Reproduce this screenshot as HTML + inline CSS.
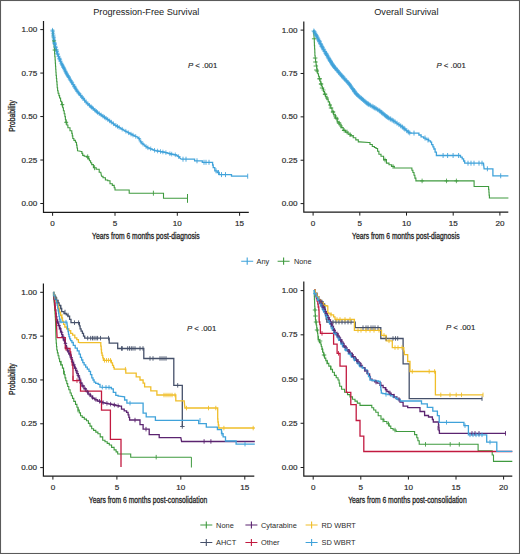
<!DOCTYPE html>
<html><head><meta charset="utf-8"><style>
html,body{margin:0;padding:0;background:#fff;}
body{width:520px;height:554px;overflow:hidden;}
svg{display:block;}
text{font-family:"Liberation Sans",sans-serif;fill:#2a2a2a;}
.tk{font-size:8.1px;stroke:#2a2a2a;stroke-width:0.18px;}
.ttl{font-size:9.2px;fill:#222;}
.pv{font-size:7.8px;stroke:#2a2a2a;stroke-width:0.15px;}
.ax{font-size:9px;fill:#1e1e1e;stroke:#1e1e1e;stroke-width:0.3px;}
.lg{font-size:7.4px;}
</style></head><body>
<svg width="520" height="554" viewBox="0 0 520 554">
<rect x="0" y="0" width="520" height="554" fill="#fff"/>
<path d="M43.5,21V212.4H248.8" stroke="#1a1a1a" stroke-width="1.2" fill="none"/>
<path d="M40.3,29.6H43.5M40.3,73.075H43.5M40.3,116.55000000000001H43.5M40.3,160.025H43.5M40.3,203.5H43.5M52.6,212.4v3.4M115.0,212.4v3.4M177.3,212.4v3.4M239.6,212.4v3.4" stroke="#1a1a1a" stroke-width="1" fill="none"/>
<text x="37.2" y="32.2" text-anchor="end" class="tk">1.00</text>
<text x="37.2" y="75.675" text-anchor="end" class="tk">0.75</text>
<text x="37.2" y="119.15" text-anchor="end" class="tk">0.50</text>
<text x="37.2" y="162.625" text-anchor="end" class="tk">0.25</text>
<text x="37.2" y="206.1" text-anchor="end" class="tk">0.00</text>
<text x="52.6" y="225.70000000000002" text-anchor="middle" class="tk">0</text>
<text x="115.0" y="225.70000000000002" text-anchor="middle" class="tk">5</text>
<text x="177.3" y="225.70000000000002" text-anchor="middle" class="tk">10</text>
<text x="239.6" y="225.70000000000002" text-anchor="middle" class="tk">15</text>
<path d="M303.8,21.5V212.2H508.3" stroke="#1a1a1a" stroke-width="1.2" fill="none"/>
<path d="M300.6,30.1H303.8M300.6,73.475H303.8M300.6,116.85H303.8M300.6,160.225H303.8M300.6,203.6H303.8M313.1,212.2v3.4M359.8,212.2v3.4M406.5,212.2v3.4M453.2,212.2v3.4M499.9,212.2v3.4" stroke="#1a1a1a" stroke-width="1" fill="none"/>
<text x="297.5" y="32.7" text-anchor="end" class="tk">1.00</text>
<text x="297.5" y="76.07499999999999" text-anchor="end" class="tk">0.75</text>
<text x="297.5" y="119.44999999999999" text-anchor="end" class="tk">0.50</text>
<text x="297.5" y="162.825" text-anchor="end" class="tk">0.25</text>
<text x="297.5" y="206.2" text-anchor="end" class="tk">0.00</text>
<text x="313.1" y="225.5" text-anchor="middle" class="tk">0</text>
<text x="359.8" y="225.5" text-anchor="middle" class="tk">5</text>
<text x="406.5" y="225.5" text-anchor="middle" class="tk">10</text>
<text x="453.2" y="225.5" text-anchor="middle" class="tk">15</text>
<text x="499.9" y="225.5" text-anchor="middle" class="tk">20</text>
<path d="M43.4,283.5V476.2H254.3" stroke="#1a1a1a" stroke-width="1.2" fill="none"/>
<path d="M40.199999999999996,292.3H43.4M40.199999999999996,336.125H43.4M40.199999999999996,379.95000000000005H43.4M40.199999999999996,423.77500000000003H43.4M40.199999999999996,467.6H43.4M52.9,476.2v3.4M116.9,476.2v3.4M180.8,476.2v3.4M244.8,476.2v3.4" stroke="#1a1a1a" stroke-width="1" fill="none"/>
<text x="37.1" y="294.90000000000003" text-anchor="end" class="tk">1.00</text>
<text x="37.1" y="338.725" text-anchor="end" class="tk">0.75</text>
<text x="37.1" y="382.55000000000007" text-anchor="end" class="tk">0.50</text>
<text x="37.1" y="426.37500000000006" text-anchor="end" class="tk">0.25</text>
<text x="37.1" y="470.20000000000005" text-anchor="end" class="tk">0.00</text>
<text x="52.9" y="489.5" text-anchor="middle" class="tk">0</text>
<text x="116.9" y="489.5" text-anchor="middle" class="tk">5</text>
<text x="180.8" y="489.5" text-anchor="middle" class="tk">10</text>
<text x="244.8" y="489.5" text-anchor="middle" class="tk">15</text>
<path d="M303.8,281.5V476.2H512.3" stroke="#1a1a1a" stroke-width="1.2" fill="none"/>
<path d="M300.6,290.6H303.8M300.6,334.82500000000005H303.8M300.6,379.05H303.8M300.6,423.275H303.8M300.6,467.5H303.8M313.2,476.2v3.4M360.8,476.2v3.4M408.4,476.2v3.4M456.0,476.2v3.4M503.6,476.2v3.4" stroke="#1a1a1a" stroke-width="1" fill="none"/>
<text x="297.5" y="293.20000000000005" text-anchor="end" class="tk">1.00</text>
<text x="297.5" y="337.42500000000007" text-anchor="end" class="tk">0.75</text>
<text x="297.5" y="381.65000000000003" text-anchor="end" class="tk">0.50</text>
<text x="297.5" y="425.875" text-anchor="end" class="tk">0.25</text>
<text x="297.5" y="470.1" text-anchor="end" class="tk">0.00</text>
<text x="313.2" y="489.5" text-anchor="middle" class="tk">0</text>
<text x="360.8" y="489.5" text-anchor="middle" class="tk">5</text>
<text x="408.4" y="489.5" text-anchor="middle" class="tk">10</text>
<text x="456.0" y="489.5" text-anchor="middle" class="tk">15</text>
<text x="503.6" y="489.5" text-anchor="middle" class="tk">20</text>
<polyline points="52.4,29.5 54.5,43.0 57.4,53.5 61.0,62.5 66.8,74.0 71.0,81.0 76.9,90.8 86.9,103.1 97.7,112.6 107.7,119.4 115.4,125.2 124.6,130.6 133.1,135.2 138.5,137.7 141.5,142.8 147.7,147.7 155.4,150.6 164.6,152.3 172.3,154.3 176.2,155.0 179.2,157.0 180.8,159.2" fill="none" stroke="#3fa2da" stroke-width="1.4" stroke-linejoin="miter" stroke-linecap="butt" opacity="1"/>
<polyline points="180.8,159.2 194.6,159.2 194.6,160.8 202.3,160.8 202.3,162.3 212.3,162.3 212.6,162.3 212.6,165.0 213.2,165.0 213.2,167.7 213.5,167.7 214.8,167.7 214.8,170.8 216.0,170.8 217.2,170.8 217.2,172.5 218.5,172.5 219.2,172.5 219.2,174.6 220.0,174.6 231.5,174.6 231.5,176.2 247.7,176.2" fill="none" stroke="#3fa2da" stroke-width="1.3" stroke-linejoin="miter" stroke-linecap="butt" opacity="1"/>
<polyline points="52.4,29.5 52.6,29.5 52.6,32.4 52.9,32.4 52.9,35.3 53.2,35.3 53.2,38.2 53.5,38.2 53.5,41.1 53.8,41.1 53.8,44.0 54.0,44.0 54.1,44.0 54.1,47.2 54.4,47.2 54.4,50.4 54.6,50.4 54.6,53.6 54.8,53.6 54.8,56.8 55.1,56.8 55.1,60.0 55.2,60.0 55.3,60.0 55.3,63.1 55.5,63.1 55.5,66.2 55.7,66.2 55.7,69.2 55.9,69.2 55.9,72.3 56.1,72.3 56.1,75.4 56.2,75.4 56.4,75.4 56.4,78.5 56.7,78.5 56.7,81.6 57.0,81.6 57.0,84.6 57.2,84.6 57.2,87.7 57.6,87.7 57.6,90.8 57.7,90.8 58.1,90.8 58.1,93.2 58.9,93.2 58.9,95.6 59.6,95.6 59.6,98.0 60.0,98.0 60.6,98.0 60.6,101.3 61.7,101.3 61.7,104.6 62.3,104.6 62.7,104.6 62.7,107.7 63.4,107.7 63.4,110.7 64.2,110.7 64.2,113.8 64.6,113.8 64.9,113.8 64.9,116.6 65.4,116.6 65.4,119.5 65.9,119.5 65.9,122.3 66.2,122.3 66.8,122.3 66.8,125.0 67.9,125.0 67.9,127.7 68.5,127.7 70.0,127.7 70.0,130.8 71.5,130.8 71.8,130.8 71.8,133.4 72.3,133.4 72.3,135.9 72.8,135.9 72.8,138.5 73.1,138.5 73.9,138.5 73.9,140.4 75.4,140.4 75.4,142.3 76.2,142.3 76.5,142.3 76.5,145.1 77.0,145.1 77.0,148.0 77.5,148.0 77.5,150.8 77.7,150.8 81.5,151.5 81.9,151.5 81.9,153.4 82.7,153.4 82.7,155.4 83.1,155.4 84.2,155.4 84.2,156.2 86.6,156.2 86.6,156.9 87.7,156.9 88.3,156.9 88.3,158.9 89.4,158.9 89.4,160.8 90.0,160.8 90.6,160.8 90.6,162.7 91.7,162.7 91.7,164.6 92.3,164.6 93.4,164.6 93.4,167.7 94.6,167.7 96.2,167.7 96.2,169.2 97.7,169.2 99.2,169.2 99.2,172.3 100.8,172.3 101.5,176.2 103.0,176.2 103.0,177.7 104.6,177.7 105.4,177.7 105.4,180.0 106.2,180.0 107.7,180.0 107.7,180.8 109.2,180.8 110.0,180.8 110.0,183.8 110.8,183.8 112.3,183.8 112.3,185.4 113.8,185.4 114.2,185.4 114.2,187.7 115.0,187.7 115.0,190.0 115.4,190.0 129.2,190.0 129.2,193.2 163.5,193.2 163.5,198.3 187.5,198.3" fill="none" stroke="#3f9a3f" stroke-width="1.1" stroke-linejoin="miter" stroke-linecap="butt" opacity="1"/>
<path d="M52.5,27.9v4.6M50.4,30.2h4.2M52.7,29.0v4.6M50.6,31.3h4.2M53.0,30.9v4.6M50.9,33.2h4.2M53.3,32.7v4.6M51.2,35.0h4.2M53.4,33.9v4.6M51.3,36.2h4.2M53.7,35.3v4.6M51.6,37.6h4.2M53.9,36.8v4.6M51.8,39.1h4.2M54.1,38.4v4.6M52.0,40.7h4.2M54.4,40.3v4.6M52.3,42.6h4.2M54.6,41.2v4.6M52.5,43.5h4.2M54.9,42.1v4.6M52.8,44.4h4.2M55.4,44.0v4.6M53.3,46.3h4.2M55.8,45.3v4.6M53.7,47.6h4.2M56.3,47.1v4.6M54.2,49.4h4.2M56.5,48.0v4.6M54.4,50.3h4.2M56.9,49.3v4.6M54.8,51.6h4.2M57.4,51.0v4.6M55.3,53.3h4.2M57.8,52.1v4.6M55.7,54.4h4.2M58.5,54.0v4.6M56.4,56.3h4.2M59.3,55.9v4.6M57.2,58.2h4.2M59.6,56.7v4.6M57.5,59.0h4.2M60.0,57.6v4.6M57.9,59.9h4.2M60.5,59.0v4.6M58.4,61.3h4.2M61.4,60.9v4.6M59.3,63.2h4.2M62.0,62.1v4.6M59.9,64.4h4.2M62.5,63.1v4.6M60.4,65.4h4.2M63.1,64.4v4.6M61.0,66.7h4.2M63.5,65.2v4.6M61.4,67.5h4.2M64.1,66.3v4.6M62.0,68.6h4.2M64.7,67.6v4.6M62.6,69.9h4.2M65.4,68.9v4.6M63.3,71.2h4.2M65.9,69.9v4.6M63.8,72.2h4.2M66.4,71.0v4.6M64.3,73.3h4.2M67.0,72.0v4.6M64.9,74.3h4.2M67.7,73.3v4.6M65.6,75.6h4.2M68.4,74.3v4.6M66.3,76.6h4.2M68.9,75.1v4.6M66.8,77.4h4.2M69.8,76.8v4.6M67.7,79.1h4.2M70.6,78.1v4.6M68.5,80.4h4.2M71.5,79.5v4.6M69.4,81.8h4.2M72.1,80.5v4.6M70.0,82.8h4.2M73.2,82.3v4.6M71.1,84.6h4.2M74.2,83.9v4.6M72.1,86.2h4.2M74.7,84.8v4.6M72.6,87.1h4.2M75.4,86.0v4.6M73.3,88.3h4.2M76.3,87.5v4.6M74.2,89.8h4.2M77.2,88.9v4.6M75.1,91.2h4.2M78.5,90.5v4.6M76.4,92.8h4.2M79.4,91.6v4.6M77.3,93.9h4.2M80.6,93.1v4.6M78.5,95.4h4.2M82.0,94.8v4.6M79.9,97.1h4.2M83.1,96.1v4.6M81.0,98.4h4.2M84.5,97.8v4.6M82.4,100.1h4.2M86.1,99.8v4.6M84.0,102.1h4.2M87.9,101.6v4.6M85.8,103.9h4.2M89.4,103.0v4.6M87.3,105.3h4.2M91.0,104.4v4.6M88.9,106.7h4.2M91.9,105.2v4.6M89.8,107.5h4.2M93.1,106.3v4.6M91.0,108.6h4.2M95.0,107.9v4.6M92.9,110.2h4.2M96.4,109.1v4.6M94.3,111.4h4.2M97.5,110.1v4.6M95.4,112.4h4.2M99.2,111.3v4.6M97.1,113.6h4.2M101.1,112.6v4.6M99.0,114.9h4.2M103.0,113.9v4.6M100.9,116.2h4.2M104.5,114.9v4.6M102.4,117.2h4.2M106.0,116.0v4.6M103.9,118.3h4.2M107.7,117.1v4.6M105.6,119.4h4.2M109.7,118.6v4.6M107.6,120.9h4.2M111.3,119.8v4.6M109.2,122.1h4.2M113.5,121.5v4.6M111.4,123.8h4.2M115.9,123.2v4.6M113.8,125.5h4.2M117.5,124.1v4.6M115.4,126.4h4.2M119.1,125.1v4.6M117.0,127.4h4.2M122.2,126.9v4.6M120.1,129.2h4.2M125.8,128.9v4.6M123.7,131.2h4.2M128.6,130.5v4.6M126.5,132.8h4.2M131.0,131.8v4.6M128.9,134.1h4.2M133.0,132.8v4.6M130.9,135.1h4.2M135.7,134.1v4.6M133.6,136.4h4.2M139.0,136.3v4.6M136.9,138.6h4.2M140.9,139.5v4.6M138.8,141.8h4.2M143.0,141.7v4.6M140.9,144.0h4.2M146.0,144.1v4.6M143.9,146.4h4.2M147.9,145.5v4.6M145.8,147.8h4.2M150.7,146.5v4.6M148.6,148.8h4.2M154.5,148.0v4.6M152.4,150.3h4.2M157.6,148.7v4.6M155.5,151.0h4.2M160.5,149.2v4.6M158.4,151.5h4.2M162.9,149.7v4.6M160.8,152.0h4.2M165.9,150.3v4.6M163.8,152.6h4.2M169.9,151.4v4.6M167.8,153.7h4.2M171.7,151.8v4.6M169.6,154.1h4.2M175.3,152.5v4.6M173.2,154.8h4.2M178.6,154.3v4.6M176.5,156.6h4.2" stroke="#3fa2da" stroke-width="0.75" fill="none"/>
<path d="M183.0,156.7v5.0M186.0,156.7v5.0M197.0,158.3v5.0M204.0,159.8v5.0M206.0,159.8v5.0M209.0,159.8v5.0M216.0,168.3v5.0M218.5,170.0v5.0M221.5,172.1v5.0M225.5,172.1v5.0M247.7,173.7v5.0" stroke="#3fa2da" stroke-width="0.9" fill="none"/>
<path d="M62.3,102.1v5.0M66.2,119.8v5.0M87.7,154.4v5.0M94.6,165.2v5.0M153.4,190.7v5.0" stroke="#3f9a3f" stroke-width="0.9" fill="none"/>
<path d="M54.0,41.0v0.0M52.0,41.0h4.0M54.6,50.0v0.0M52.6,50.0h4.0M62.3,104.6v0.0M60.3,104.6h4.0M66.2,122.3v0.0M64.2,122.3h4.0M87.7,156.9v0.0M85.7,156.9h4.0" stroke="#3f9a3f" stroke-width="0.9" fill="none"/>
<path d="M187.5,194V202.8" stroke="#3f9a3f" stroke-width="1"/>
<polyline points="313.5,30.4 317.3,37.3 321.9,46.5 327.3,55.8 332.7,65.0 340.4,74.2 349.2,84.0 356.5,94.2 367.3,103.5 379.4,110.6 386.9,116.9 394.6,121.5 402.3,126.9 407.7,131.5 410.0,133.1" fill="none" stroke="#3fa2da" stroke-width="1.4" stroke-linejoin="miter" stroke-linecap="butt" opacity="1"/>
<polyline points="410.0,133.1 417.7,133.1 418.9,133.1 418.9,135.0 421.1,135.0 421.1,136.9 422.3,136.9 423.6,136.9 423.6,138.2 426.1,138.2 426.1,139.5 428.7,139.5 428.7,140.8 430.0,140.8 430.5,140.8 430.5,142.2 431.0,142.2 431.6,142.2 431.6,144.6 432.3,144.6 432.9,144.6 432.9,146.8 433.9,146.8 433.9,149.0 434.5,149.0 435.1,149.0 435.1,152.2 436.4,152.2 436.4,155.5 437.0,155.5 459.7,155.5 460.5,155.5 460.5,157.2 462.2,157.2 462.2,158.8 463.0,158.8 463.6,158.8 463.6,161.0 464.7,161.0 464.7,163.2 465.3,163.2 483.5,163.2 484.1,168.8 492.9,168.8 492.9,175.8 508.4,175.8" fill="none" stroke="#3fa2da" stroke-width="1.3" stroke-linejoin="miter" stroke-linecap="butt" opacity="1"/>
<polyline points="313.5,30.4 314.2,38.8 314.3,38.8 314.3,42.2 314.4,42.2 314.4,45.6 314.6,45.6 314.6,49.0 314.8,49.0 314.8,52.4 314.9,52.4 314.9,55.8 315.0,55.8 315.2,55.8 315.2,58.8 315.6,58.8 315.6,61.9 315.8,61.9 316.1,61.9 316.1,65.0 316.6,65.0 316.6,68.1 317.1,68.1 317.1,71.2 317.3,71.2 317.7,71.2 317.7,73.7 318.5,73.7 318.5,76.3 319.2,76.3 319.2,78.8 319.6,78.8 320.0,78.8 320.0,81.2 320.8,81.2 320.8,83.6 321.5,83.6 321.5,86.0 321.9,86.0 322.4,86.0 322.4,88.7 323.4,88.7 323.4,91.5 324.5,91.5 324.5,94.2 325.0,94.2 325.6,94.2 325.6,96.8 326.9,96.8 326.9,99.3 328.2,99.3 328.2,101.9 328.8,101.9 329.5,101.9 329.5,105.0 330.8,105.0 330.8,108.1 332.0,108.1 332.0,111.2 332.7,111.2 333.6,111.2 333.6,114.8 335.4,114.8 335.4,118.3 337.2,118.3 337.2,121.9 338.1,121.9 339.1,121.9 339.1,124.7 341.1,124.7 341.1,127.6 343.2,127.6 343.2,130.4 344.2,130.4 345.5,130.4 345.5,132.2 348.0,132.2 348.0,134.0 350.6,134.0 350.6,135.8 351.9,135.8 353.2,135.8 353.2,137.8 355.8,137.8 355.8,139.9 358.3,139.9 358.3,141.9 359.6,141.9 368.8,142.5 370.0,142.5 370.0,144.5 372.3,144.5 372.3,146.5 373.5,146.5 374.4,146.5 374.4,147.5 376.0,147.5 376.0,148.5 376.9,148.5 377.6,148.5 377.6,151.3 378.9,151.3 378.9,154.2 379.6,154.2 381.0,154.2 381.0,156.2 382.3,156.2 383.6,156.2 383.6,159.6 386.4,159.6 386.4,163.1 387.7,163.1 389.0,163.1 389.0,164.7 391.5,164.7 391.5,166.4 394.1,166.4 394.1,168.0 395.4,168.0 411.3,168.0 411.9,168.0 411.9,170.2 412.9,170.2 412.9,172.5 413.5,172.5 414.0,172.5 414.0,175.3 414.9,175.3 414.9,178.1 415.9,178.1 415.9,180.9 416.4,180.9 474.1,180.9 474.1,186.5 488.5,186.5 488.6,186.5 488.6,189.4 488.9,189.4 488.9,192.2 489.1,192.2 489.1,195.1 489.4,195.1 489.4,198.0 489.5,198.0 508.4,198.0" fill="none" stroke="#3f9a3f" stroke-width="1.1" stroke-linejoin="miter" stroke-linecap="butt" opacity="1"/>
<path d="M313.8,28.5v5.0M311.5,31.0h4.6M314.3,29.3v5.0M312.0,31.8h4.6M315.1,30.7v5.0M312.8,33.2h4.6M315.8,32.1v5.0M313.5,34.6h4.6M316.3,33.0v5.0M314.0,35.5h4.6M316.9,34.2v5.0M314.6,36.7h4.6M317.5,35.3v5.0M315.2,37.8h4.6M318.2,36.6v5.0M315.9,39.1h4.6M318.9,38.0v5.0M316.6,40.5h4.6M319.3,38.8v5.0M317.0,41.3h4.6M319.7,39.5v5.0M317.4,42.0h4.6M320.4,41.0v5.0M318.1,43.5h4.6M320.9,42.1v5.0M318.6,44.6h4.6M321.6,43.5v5.0M319.3,46.0h4.6M322.0,44.2v5.0M319.7,46.7h4.6M322.6,45.3v5.0M320.3,47.8h4.6M323.4,46.6v5.0M321.1,49.1h4.6M323.9,47.5v5.0M321.6,50.0h4.6M324.8,49.0v5.0M322.5,51.5h4.6M325.7,50.5v5.0M323.4,53.0h4.6M326.1,51.2v5.0M323.8,53.7h4.6M326.5,51.9v5.0M324.2,54.4h4.6M327.1,53.0v5.0M324.8,55.5h4.6M328.0,54.5v5.0M325.7,57.0h4.6M328.6,55.6v5.0M326.3,58.1h4.6M329.1,56.4v5.0M326.8,58.9h4.6M329.8,57.5v5.0M327.5,60.0h4.6M330.2,58.2v5.0M327.9,60.7h4.6M330.7,59.0v5.0M328.4,61.5h4.6M331.3,60.1v5.0M329.0,62.6h4.6M332.0,61.2v5.0M329.7,63.7h4.6M332.5,62.1v5.0M330.2,64.6h4.6M333.1,62.9v5.0M330.8,65.4h4.6M333.7,63.7v5.0M331.4,66.2h4.6M334.5,64.7v5.0M332.2,67.2h4.6M335.2,65.5v5.0M332.9,68.0h4.6M335.7,66.1v5.0M333.4,68.6h4.6M336.8,67.4v5.0M334.5,69.9h4.6M337.7,68.4v5.0M335.4,70.9h4.6M338.6,69.5v5.0M336.3,72.0h4.6M339.2,70.3v5.0M336.9,72.8h4.6M340.4,71.7v5.0M338.1,74.2h4.6M341.5,72.9v5.0M339.2,75.4h4.6M342.1,73.6v5.0M339.8,76.1h4.6M342.9,74.4v5.0M340.6,76.9h4.6M343.9,75.6v5.0M341.6,78.1h4.6M344.9,76.7v5.0M342.6,79.2h4.6M346.1,78.0v5.0M343.8,80.5h4.6M346.9,78.9v5.0M344.6,81.4h4.6M348.0,80.1v5.0M345.7,82.6h4.6M349.0,81.2v5.0M346.7,83.7h4.6M349.6,82.1v5.0M347.3,84.6h4.6M350.4,83.2v5.0M348.1,85.7h4.6M351.4,84.6v5.0M349.1,87.1h4.6M352.4,86.0v5.0M350.1,88.5h4.6M353.2,87.0v5.0M350.9,89.5h4.6M354.0,88.2v5.0M351.7,90.7h4.6M354.4,88.8v5.0M352.1,91.3h4.6M355.0,89.7v5.0M352.7,92.2h4.6M356.0,91.0v5.0M353.7,93.5h4.6M356.7,91.9v5.0M354.4,94.4h4.6M357.5,92.5v5.0M355.2,95.0h4.6M358.5,93.4v5.0M356.2,95.9h4.6M359.6,94.4v5.0M357.3,96.9h4.6M360.8,95.4v5.0M358.5,97.9h4.6M361.6,96.1v5.0M359.3,98.6h4.6M362.6,96.9v5.0M360.3,99.4h4.6M363.6,97.8v5.0M361.3,100.3h4.6M364.8,98.8v5.0M362.5,101.3h4.6M365.8,99.7v5.0M363.5,102.2h4.6M366.7,100.5v5.0M364.4,103.0h4.6M367.7,101.2v5.0M365.4,103.7h4.6M368.4,101.6v5.0M366.1,104.1h4.6M369.1,102.1v5.0M366.8,104.6h4.6M370.4,102.8v5.0M368.1,105.3h4.6M372.0,103.7v5.0M369.7,106.2h4.6M373.2,104.4v5.0M370.9,106.9h4.6M374.2,105.1v5.0M371.9,107.6h4.6M375.0,105.5v5.0M372.7,108.0h4.6M376.2,106.2v5.0M373.9,108.7h4.6M377.7,107.1v5.0M375.4,109.6h4.6M379.1,107.9v5.0M376.8,110.4h4.6M380.1,108.7v5.0M377.8,111.2h4.6M381.4,109.8v5.0M379.1,112.3h4.6M382.2,110.5v5.0M379.9,113.0h4.6M383.2,111.3v5.0M380.9,113.8h4.6M384.6,112.4v5.0M382.3,114.9h4.6M385.6,113.3v5.0M383.3,115.8h4.6M386.6,114.1v5.0M384.3,116.6h4.6M387.5,114.7v5.0M385.2,117.2h4.6M388.6,115.4v5.0M386.3,117.9h4.6M390.1,116.3v5.0M387.8,118.8h4.6M390.8,116.7v5.0M388.5,119.2h4.6M392.2,117.6v5.0M389.9,120.1h4.6M393.6,118.4v5.0M391.3,120.9h4.6M395.0,119.3v5.0M392.7,121.8h4.6M397.0,120.7v5.0M394.7,123.2h4.6M399.0,122.1v5.0M396.7,124.6h4.6M400.7,123.3v5.0M398.4,125.8h4.6M402.4,124.5v5.0M400.1,127.0h4.6M403.8,125.7v5.0M401.5,128.2h4.6M404.8,126.5v5.0M402.5,129.0h4.6M406.8,128.2v5.0M404.5,130.7h4.6M408.4,129.5v5.0M406.1,132.0h4.6M409.7,130.4v5.0M407.4,132.9h4.6" stroke="#3fa2da" stroke-width="0.75" fill="none"/>
<path d="M414.0,130.6v5.0M425.0,135.5v5.0M428.0,137.5v5.0M443.1,153.0v5.0M447.6,153.0v5.0M453.1,153.0v5.0M458.6,153.0v5.0M468.0,160.7v5.0M471.0,160.7v5.0M474.0,160.7v5.0M479.0,160.7v5.0M482.0,160.7v5.0M487.4,166.3v5.0M500.7,173.3v5.0" stroke="#3fa2da" stroke-width="0.9" fill="none"/>
<path d="M314.2,38.8v0.0M311.9,38.8h4.5M315.2,58.0v0.0M312.9,58.0h4.5M315.5,62.0v0.0M313.2,62.0h4.5M315.8,66.0v0.0M313.6,66.0h4.5M316.3,70.0v0.0M314.1,70.0h4.5M319.6,78.8v0.0M317.4,78.8h4.5M321.0,84.0v0.0M318.8,84.0h4.5M322.0,88.0v0.0M319.8,88.0h4.5M325.0,94.2v0.0M322.8,94.2h4.5M331.0,108.0v0.0M328.8,108.0h4.5M333.0,112.0v0.0M330.8,112.0h4.5M336.0,118.0v0.0M333.8,118.0h4.5M339.0,123.0v0.0M336.8,123.0h4.5M344.2,130.4v0.0M341.9,130.4h4.5M351.9,135.8v0.0M349.6,135.8h4.5" stroke="#3f9a3f" stroke-width="0.9" fill="none"/>
<path d="M317.0,68.7v4.6M315.0,71.0h4.0M319.6,76.5v4.6M317.6,78.8h4.0M321.0,81.7v4.6M319.0,84.0h4.0M323.5,87.7v4.6M321.5,90.0h4.0M325.0,91.9v4.6M323.0,94.2h4.0M327.0,95.7v4.6M325.0,98.0h4.0M330.0,102.7v4.6M328.0,105.0h4.0M333.0,109.7v4.6M331.0,112.0h4.0M335.0,113.7v4.6M333.0,116.0h4.0M337.0,116.7v4.6M335.0,119.0h4.0M339.0,120.7v4.6M337.0,123.0h4.0M341.0,123.7v4.6M339.0,126.0h4.0M344.2,128.1v4.6M342.2,130.4h4.0M347.0,129.7v4.6M345.0,132.0h4.0M350.0,132.2v4.6M348.0,134.5h4.0M385.0,157.7v4.6M383.0,160.0h4.0M393.0,164.2v4.6M391.0,166.5h4.0M422.1,178.6v4.6M420.1,180.9h4.0M446.5,178.6v4.6M444.5,180.9h4.0M456.4,178.6v4.6M454.4,180.9h4.0" stroke="#3f9a3f" stroke-width="0.8" fill="none"/>
<polyline points="53.2,292.5 53.4,292.5 53.4,295.6 53.7,295.6 53.7,298.8 54.0,298.8 54.0,301.9 54.3,301.9 54.3,305.0 54.5,305.0 54.6,305.0 54.6,308.0 54.8,308.0 54.8,311.0 55.0,311.0 55.0,314.0 55.2,314.0 55.2,317.0 55.4,317.0 55.4,320.0 55.5,320.0 56.0,339.7 56.2,339.7 56.2,343.1 56.5,343.1 56.5,346.6 56.8,346.6 56.8,350.0 57.0,350.0 57.4,350.0 57.4,352.9 58.1,352.9 58.1,355.8 58.9,355.8 58.9,358.7 59.6,358.7 59.6,361.6 60.0,361.6 60.8,361.6 60.8,364.9 62.4,364.9 62.4,368.1 63.2,368.1 63.6,368.1 63.6,371.4 64.3,371.4 64.3,374.6 65.0,374.6 65.0,377.9 65.4,377.9 65.8,377.9 65.8,380.8 66.8,380.8 66.8,383.6 67.7,383.6 67.7,386.5 68.1,386.5 68.8,386.5 68.8,389.8 70.1,389.8 70.1,393.0 70.8,393.0 71.3,393.0 71.3,395.7 72.5,395.7 72.5,398.4 73.0,398.4 73.8,398.4 73.8,401.4 75.5,401.4 75.5,404.4 76.3,404.4 76.9,404.4 76.9,407.2 78.1,407.2 78.1,410.1 79.3,410.1 79.3,412.9 80.5,412.9 80.5,415.8 81.1,415.8 82.2,415.8 82.2,417.4 84.3,417.4 84.3,419.1 86.5,419.1 86.5,420.7 87.6,420.7 88.4,420.7 88.4,423.4 90.0,423.4 90.0,426.1 91.7,426.1 91.7,428.8 92.5,428.8 93.6,428.8 93.6,430.4 95.8,430.4 95.8,432.1 97.9,432.1 97.9,433.7 99.0,433.7 100.2,433.7 100.2,436.9 102.7,436.9 102.7,440.2 103.9,440.2 105.0,440.2 105.0,441.8 107.2,441.8 107.2,443.4 109.3,443.4 109.3,445.0 110.4,445.0 111.6,445.0 111.6,447.4 114.1,447.4 114.1,449.9 115.3,449.9 116.1,449.9 116.1,451.9 117.7,451.9 117.7,454.0 118.5,454.0 130.7,454.0 130.7,457.2 191.4,457.2" fill="none" stroke="#3f9a3f" stroke-width="1.1" stroke-linejoin="miter" stroke-linecap="butt" opacity="1"/>
<path d="M191.4,457.2V467.5" stroke="#3f9a3f" stroke-width="1"/>
<polyline points="53.2,292.5 53.9,292.5 53.9,295.2 55.3,295.2 55.3,298.0 56.0,298.0 56.6,298.0 56.6,300.5 57.9,300.5 57.9,302.9 59.1,302.9 59.1,305.4 59.7,305.4 60.4,305.4 60.4,308.5 61.7,308.5 61.7,311.7 62.4,311.7 64.0,311.7 64.0,313.5 65.5,313.5 66.3,313.5 66.3,314.9 67.9,314.9 67.9,316.2 68.7,316.2 69.6,316.2 69.6,319.4 70.5,319.4 71.0,319.4 71.0,322.6 71.4,322.6 79.1,322.6 79.4,322.6 79.4,325.8 80.1,325.8 80.1,328.9 80.4,328.9 81.1,328.9 81.1,331.1 82.4,331.1 82.4,333.4 83.1,333.4 83.5,333.4 83.5,336.1 84.0,336.1 84.7,336.1 84.7,338.1 85.4,338.1 109.2,338.1 109.2,343.1 117.7,343.1 117.7,348.5 143.8,348.5 143.8,358.5 173.8,358.5 173.8,385.4 182.3,385.4 182.3,426.9" fill="none" stroke="#45506a" stroke-width="1.3" stroke-linejoin="miter" stroke-linecap="butt" opacity="1"/>
<polyline points="53.5,292.5 54.0,296.0 54.2,296.0 54.2,299.5 54.6,299.5 54.6,303.0 54.9,303.0 54.9,306.5 55.3,306.5 55.3,310.0 55.5,310.0 55.8,310.0 55.8,313.3 56.2,313.3 56.2,316.7 56.8,316.7 56.8,320.0 57.0,320.0 57.5,320.0 57.5,322.8 58.5,322.8 58.5,325.7 59.6,325.7 59.6,328.5 60.1,328.5 60.6,328.5 60.6,331.5 61.7,331.5 61.7,334.6 62.7,334.6 62.7,337.6 63.2,337.6 63.7,337.6 63.7,340.1 64.7,340.1 64.7,342.7 65.2,342.7 65.6,342.7 65.6,345.7 66.5,345.7 66.5,348.7 66.9,348.7 67.6,348.7 67.6,351.2 68.8,351.2 68.8,353.7 70.2,353.7 70.2,356.2 70.8,356.2 71.3,356.2 71.3,359.4 72.5,359.4 72.5,362.7 73.0,362.7 73.5,362.7 73.5,365.2 74.6,365.2 74.6,367.8 75.7,367.8 75.7,370.3 76.2,370.3 76.9,370.3 76.9,373.6 78.2,373.6 78.2,376.8 78.9,376.8 79.5,376.8 79.5,380.1 80.5,380.1 80.5,383.3 81.1,383.3 82.0,383.3 82.0,386.0 84.0,386.0 84.0,388.7 84.9,388.7 86.0,388.7 86.0,391.4 88.1,391.4 88.1,394.1 89.2,394.1 90.3,394.1 90.3,396.2 92.4,396.2 92.4,398.4 93.5,398.4 94.9,398.4 94.9,399.8 97.6,399.8 97.6,401.1 99.0,401.1 100.2,401.1 100.2,402.0 102.7,402.0 102.7,402.8 103.9,402.8 105.2,402.8 105.2,403.3 108.0,403.3 108.0,403.9 110.7,403.9 110.7,404.4 112.0,404.4 113.3,404.4 113.3,405.0 116.0,405.0 116.0,405.6 118.7,405.6 118.7,406.2 120.0,406.2 121.5,406.2 121.5,409.2 123.1,409.2 124.2,409.2 124.2,410.8 126.6,410.8 126.6,412.3 127.7,412.3 128.1,412.3 128.1,414.9 128.9,414.9 128.9,417.4 129.6,417.4 129.6,420.0 130.0,420.0 140.0,420.0 140.0,424.6 143.1,424.6 143.1,429.2 149.2,429.2 149.2,434.6 159.2,434.6 159.2,437.7 180.8,437.7 181.6,441.5 254.8,441.5" fill="none" stroke="#5b2470" stroke-width="1.3" stroke-linejoin="miter" stroke-linecap="butt" opacity="1"/>
<polyline points="53.5,292.5 54.0,296.0 54.2,296.0 54.2,299.5 54.6,299.5 54.6,303.0 54.9,303.0 54.9,306.5 55.3,306.5 55.3,310.0 55.5,310.0 55.6,310.0 55.6,313.0 55.8,313.0 55.8,316.0 56.0,316.0 56.0,319.0 56.2,319.0 56.2,322.0 56.4,322.0 56.4,325.0 56.5,325.0 57.1,337.6 65.3,337.6 65.3,348.5 69.7,348.5 70.0,348.5 70.0,351.8 70.7,351.8 70.7,355.0 71.0,355.0 71.2,355.0 71.2,358.5 71.8,358.5 71.8,362.0 72.0,362.0 72.2,362.0 72.2,365.0 72.8,365.0 72.8,368.0 73.0,368.0 73.0,380.6 80.5,380.6 80.5,391.2 101.5,391.2 101.5,410.1 110.4,410.1 110.4,439.3 121.0,439.3 121.0,467.0" fill="none" stroke="#c21a40" stroke-width="1.3" stroke-linejoin="miter" stroke-linecap="butt" opacity="1"/>
<polyline points="53.5,292.5 54.0,292.5 54.0,295.3 55.0,295.3 55.0,298.2 56.0,298.2 56.0,301.0 56.5,301.0 56.9,301.0 56.9,303.7 57.8,303.7 57.8,306.3 58.6,306.3 58.6,309.0 59.0,309.0 59.5,309.0 59.5,312.1 60.5,312.1 60.5,315.3 61.0,315.3 61.5,315.3 61.5,318.0 61.9,318.0 62.5,318.0 62.5,321.2 63.6,321.2 63.6,324.4 64.2,324.4 64.8,324.4 64.8,327.0 65.5,327.0 66.6,327.0 66.6,328.9 68.9,328.9 68.9,330.7 70.0,330.7 70.7,330.7 70.7,333.4 71.4,333.4 72.6,333.4 72.6,335.2 73.7,335.2 74.8,335.2 74.8,337.9 75.9,337.9 76.8,337.9 76.8,339.7 77.7,339.7 78.4,339.7 78.4,342.4 79.1,342.4 79.5,342.6 100.6,342.6 100.8,342.6 100.8,346.1 101.2,346.1 101.2,349.5 101.5,349.5 101.5,353.0 101.7,353.0 102.1,353.0 102.1,355.4 102.8,355.4 102.8,357.9 103.4,357.9 103.4,360.3 103.8,360.3 110.8,360.3 111.4,360.3 111.4,362.9 112.5,362.9 112.5,365.4 113.1,365.4 113.5,365.4 113.5,367.3 114.2,367.3 114.2,369.2 114.6,369.2 125.8,369.2 125.8,373.1 136.2,373.1 136.2,376.9 140.0,376.9 140.0,380.0 143.1,380.0 143.1,383.1 144.6,383.1 144.6,386.9 150.8,386.9 150.8,390.8 156.9,390.8 156.9,395.0 175.8,395.0 175.8,400.8 184.2,400.8 184.9,408.0 217.7,408.0 217.7,419.0 217.9,419.0 217.9,422.0 218.3,422.0 218.3,425.0 218.8,425.0 218.8,428.0 219.0,428.0 254.8,428.0" fill="none" stroke="#f0be2a" stroke-width="1.3" stroke-linejoin="miter" stroke-linecap="butt" opacity="1"/>
<polyline points="53.3,292.5 53.9,292.5 53.9,295.9 55.1,295.9 55.1,299.3 56.4,299.3 56.4,302.7 57.0,302.7 57.2,302.7 57.2,305.4 57.7,305.4 57.7,308.1 58.1,308.1 58.1,310.8 58.6,310.8 58.6,313.5 58.8,313.5 59.0,313.5 59.0,316.4 59.5,316.4 59.5,319.2 60.0,319.2 60.0,322.1 60.3,322.1 66.9,322.1 67.3,326.2 67.5,326.2 67.5,328.9 68.0,328.9 68.0,331.6 68.5,331.6 68.5,334.3 68.7,334.3 69.0,334.3 69.0,336.6 69.7,336.6 69.7,338.8 70.0,338.8 70.6,338.8 70.6,340.6 71.9,340.6 71.9,342.5 72.5,342.5 73.3,342.5 73.3,345.4 74.1,345.4 75.2,345.4 75.2,348.1 77.3,348.1 77.3,350.8 78.4,350.8 79.1,350.8 79.1,354.1 80.4,354.1 80.4,357.3 81.1,357.3 81.6,357.3 81.6,360.0 82.8,360.0 82.8,362.7 83.3,362.7 84.1,362.7 84.1,364.9 85.7,364.9 85.7,367.1 86.5,367.1 87.3,367.1 87.3,369.2 89.0,369.2 89.0,371.4 89.8,371.4 90.5,371.4 90.5,374.6 91.8,374.6 91.8,377.9 92.5,377.9 93.0,377.9 93.0,380.0 94.1,380.0 94.1,382.2 94.6,382.2 95.7,382.2 95.7,383.3 96.8,383.3 98.2,383.3 98.2,384.4 99.5,384.4 100.0,384.4 100.0,387.1 100.6,387.1 110.8,387.5 111.4,387.5 111.4,388.9 112.0,388.9 113.3,388.9 113.3,392.3 114.6,392.3 115.8,392.3 115.8,395.4 116.9,395.4 118.1,395.4 118.1,396.2 119.2,396.2 124.6,396.9 124.6,400.0 126.9,400.0 126.9,403.1 143.1,403.1 143.1,413.1 146.2,413.1 146.2,416.9 155.4,416.9 155.4,420.3 198.7,420.3 198.7,423.6 206.3,423.6 206.3,427.2 217.4,427.2 217.4,429.6 221.5,429.6 221.5,433.7 223.1,433.7 223.1,436.9 225.5,436.9 225.5,441.0 236.1,441.0 236.1,444.2 254.8,444.2" fill="none" stroke="#3fa2da" stroke-width="1.3" stroke-linejoin="miter" stroke-linecap="butt" opacity="1"/>
<path d="M61.0,360.8v4.5M63.5,369.8v4.5M78.0,407.8v4.5M156.2,454.9v4.5" stroke="#3f9a3f" stroke-width="0.9" fill="none"/>
<path d="M56.0,295.8v4.5M58.0,299.8v4.5M61.0,304.8v4.5M65.0,309.8v4.5M68.0,312.8v4.5M74.5,320.4v4.5M78.6,320.4v4.5M87.7,335.9v4.5M90.7,335.9v4.5M92.5,335.9v4.5M94.1,335.9v4.5M96.0,335.9v4.5M97.6,335.9v4.5M100.5,335.9v4.5M108.5,335.9v4.5M121.5,346.2v4.5M122.3,346.2v4.5M127.7,346.2v4.5M129.5,346.2v4.5M131.3,346.2v4.5M133.0,346.2v4.5M135.0,346.2v4.5M140.0,346.2v4.5M143.0,346.2v4.5M150.0,356.2v4.5M153.0,356.2v4.5M160.0,356.2v4.5M162.0,356.2v4.5M164.0,356.2v4.5M166.0,356.2v4.5M177.7,383.1v4.5M182.3,424.2v4.5" stroke="#45506a" stroke-width="0.9" fill="none"/>
<path d="M182.3,426.5v0.0M180.1,426.5h4.5" stroke="#45506a" stroke-width="0.9" fill="none"/>
<path d="M57.7,319.6v4.5M55.9,321.8h3.5M59.0,323.2v4.5M57.2,325.4h3.5M60.3,326.8v4.5M58.5,329.0h3.5M61.5,330.4v4.5M59.8,332.7h3.5M62.8,334.0v4.5M61.0,336.3h3.5M64.1,337.6v4.5M62.3,339.9h3.5M65.4,341.2v4.5M63.7,343.5h3.5M66.5,344.9v4.5M64.7,347.2h3.5M67.9,348.5v4.5M66.2,350.7h3.5M69.7,351.9v4.5M68.0,354.1h3.5M71.3,355.4v4.5M69.5,357.6h3.5M72.5,359.0v4.5M70.8,361.2h3.5M73.9,362.6v4.5M72.1,364.8h3.5M75.4,366.1v4.5M73.6,368.4h3.5M76.9,369.7v4.5M75.1,371.9h3.5M78.3,373.2v4.5M76.6,375.5h3.5M79.7,376.8v4.5M77.9,379.1h3.5M80.9,380.4v4.5M79.1,382.7h3.5M82.9,383.7v4.5M81.2,385.9h3.5M85.2,386.8v4.5M83.4,389.0h3.5M87.6,389.8v4.5M85.8,392.0h3.5M90.1,392.7v4.5M88.3,395.0h3.5M92.8,395.4v4.5M91.0,397.7h3.5M96.0,397.4v4.5M94.3,399.6h3.5M99.5,399.0v4.5M97.7,401.3h3.5M103.1,400.3v4.5M101.4,402.5h3.5M106.9,401.1v4.5M105.1,403.4h3.5M110.6,401.9v4.5M108.9,404.1h3.5M114.4,402.7v4.5M112.6,404.9h3.5M118.1,403.5v4.5M116.4,405.8h3.5" stroke="#5b2470" stroke-width="0.8" fill="none"/>
<path d="M204.1,439.2v4.5M210.9,439.2v4.5M135.0,417.8v4.5M146.0,426.9v4.5" stroke="#5b2470" stroke-width="0.9" fill="none"/>
<path d="M66.0,346.2v4.5M73.0,375.8v4.5M77.0,378.4v4.5" stroke="#c21a40" stroke-width="0.9" fill="none"/>
<path d="M58.0,303.8v4.5M62.0,313.8v4.5M104.5,358.1v4.5M106.5,358.1v4.5M108.5,358.1v4.5M110.5,358.1v4.5M125.4,366.9v4.5M164.0,392.8v4.5M166.0,392.8v4.5M168.0,392.8v4.5M170.0,392.8v4.5M172.0,392.8v4.5M175.0,392.8v4.5M186.5,405.8v4.5M208.5,405.8v4.5M215.8,405.8v4.5M223.9,425.8v4.5M253.2,425.8v4.5" stroke="#f0be2a" stroke-width="0.9" fill="none"/>
<path d="M66.0,319.9v4.5M61.0,318.8v4.5M58.5,308.8v4.5M57.5,303.8v4.5M102.3,384.9v4.5M106.0,385.1v4.5M109.0,385.1v4.5M130.0,400.9v4.5M200.0,418.1v4.5M222.0,431.4v4.5M245.0,441.9v4.5" stroke="#3fa2da" stroke-width="0.9" fill="none"/>
<polyline points="314.3,290.2 314.3,296.5 314.4,296.5 314.4,299.8 314.6,299.8 314.6,303.1 314.7,303.1 314.7,306.4 314.9,306.4 314.9,309.7 315.1,309.7 315.1,313.0 315.2,313.0 315.2,316.3 315.4,316.3 315.4,319.6 315.5,319.6 315.8,319.6 315.8,322.3 316.2,322.3 316.2,325.0 316.5,325.0 316.7,325.0 316.7,327.8 317.1,327.8 317.1,330.6 317.6,330.6 317.6,333.4 317.8,333.4 318.1,339.6 319.4,339.6 319.4,342.7 320.7,342.7 320.9,342.7 320.9,344.6 321.3,344.6 321.3,346.5 321.5,346.5 321.9,346.5 321.9,349.4 322.8,349.4 322.8,352.3 323.7,352.3 323.7,355.2 324.6,355.2 324.6,358.1 325.0,358.1 325.8,358.1 325.8,360.8 327.3,360.8 327.3,363.4 328.8,363.4 328.8,366.1 329.6,366.1 330.6,366.1 330.6,369.2 332.5,369.2 332.5,372.3 334.4,372.3 334.4,375.4 335.4,375.4 336.2,375.4 336.2,377.7 338.0,377.7 338.0,380.0 338.8,380.0 339.1,380.0 339.1,383.1 339.7,383.1 339.7,386.2 340.0,386.2 341.6,386.2 341.6,389.2 344.6,389.2 344.6,392.3 346.2,392.3 347.5,392.3 347.5,394.6 350.0,394.6 350.0,396.9 352.5,396.9 352.5,399.2 353.8,399.2 355.0,399.2 355.0,401.1 357.3,401.1 357.3,403.1 358.5,403.1 360.0,403.1 360.0,405.4 361.5,405.4 370.8,405.4 371.8,405.4 371.8,407.7 373.7,407.7 373.7,410.0 374.6,410.0 375.8,410.0 375.8,412.3 376.9,412.3 378.2,412.3 378.2,415.8 381.0,415.8 381.0,419.2 382.3,419.2 383.9,419.2 383.9,421.5 386.9,421.5 386.9,423.8 388.5,423.8 389.2,423.8 389.2,426.1 390.8,426.1 390.8,428.5 391.5,428.5 393.1,428.5 393.1,430.0 396.1,430.0 396.1,431.5 397.7,431.5 413.1,431.5 414.6,431.5 414.6,434.6 416.2,434.6 416.8,434.6 416.8,437.7 417.9,437.7 417.9,440.8 418.5,440.8 419.2,440.8 419.2,444.3 420.0,444.3 478.1,444.3 478.1,450.9 492.2,450.9 492.2,455.0 493.5,455.0 493.5,461.4 512.3,461.4" fill="none" stroke="#3f9a3f" stroke-width="1.1" stroke-linejoin="miter" stroke-linecap="butt" opacity="1"/>
<polyline points="314.3,290.2 315.2,290.2 315.2,293.5 316.9,293.5 316.9,296.7 318.6,296.7 318.6,300.0 319.5,300.0 320.7,300.0 320.7,302.0 323.2,302.0 323.2,304.0 324.4,304.0 324.6,304.0 324.6,307.0 325.0,307.0 325.0,310.0 325.4,310.0 325.4,313.0 325.8,313.0 325.8,316.0 326.0,316.0 326.2,316.0 326.2,319.1 326.8,319.1 326.8,322.2 327.0,322.2 355.2,322.2 355.2,327.7 380.8,327.7 380.8,338.5 403.1,338.5 403.1,363.8 409.2,363.8 409.2,398.6 482.2,398.6" fill="none" stroke="#45506a" stroke-width="1.3" stroke-linejoin="miter" stroke-linecap="butt" opacity="1"/>
<polyline points="314.3,290.2 315.2,290.2 315.2,293.5 316.9,293.5 316.9,296.7 318.6,296.7 318.6,300.0 319.5,300.0 320.2,300.0 320.2,302.9 321.7,302.9 321.7,305.8 323.1,305.8 323.1,308.6 324.6,308.6 324.6,311.5 325.3,311.5 326.0,311.5 326.0,314.4 327.5,314.4 327.5,317.3 328.9,317.3 328.9,320.2 330.4,320.2 330.4,323.1 331.1,323.1 331.8,323.1 331.8,326.4 333.2,326.4 333.2,329.7 334.7,329.7 334.7,333.0 335.4,333.0 336.8,333.5 337.8,333.5 337.8,336.8 339.7,336.8 339.7,340.0 341.7,340.0 341.7,343.2 343.6,343.2 343.6,346.5 344.6,346.5 346.1,346.5 346.1,350.0 349.2,350.0 349.2,353.4 352.3,353.4 352.3,356.9 353.8,356.9 355.1,356.9 355.1,360.0 357.9,360.0 357.9,363.0 360.5,363.0 360.5,366.1 361.9,366.1 362.5,366.1 362.5,367.7 363.1,367.7 364.6,367.7 364.6,370.8 367.7,370.8 367.7,373.8 369.2,373.8 369.6,373.8 369.6,376.5 370.4,376.5 370.4,379.2 370.8,379.2 372.1,379.2 372.1,380.5 374.6,380.5 374.6,381.8 377.2,381.8 377.2,383.1 378.5,383.1 380.0,383.1 380.0,385.4 383.1,385.4 383.1,387.7 384.6,387.7 385.4,387.7 385.4,389.6 386.9,389.6 386.9,391.5 387.7,391.5 388.9,391.5 388.9,393.1 391.1,393.1 391.1,394.6 392.3,394.6 393.9,394.6 393.9,396.9 396.9,396.9 396.9,399.2 398.5,399.2 400.0,399.2 400.0,402.0 401.5,402.0 403.1,402.3 403.1,406.2 407.7,406.2 407.7,407.7 420.0,407.7 420.0,411.5 424.6,411.5 424.6,415.5 428.5,415.5 428.5,417.0 432.0,417.0 432.4,417.0 432.4,419.5 433.3,419.5 433.3,422.0 433.7,422.0 438.3,422.0 438.5,422.0 438.5,424.9 438.8,424.9 438.8,427.7 439.0,427.7 439.0,430.5 439.4,430.5 439.4,433.4 439.5,433.4 505.9,433.4" fill="none" stroke="#5b2470" stroke-width="1.3" stroke-linejoin="miter" stroke-linecap="butt" opacity="1"/>
<polyline points="314.3,290.2 314.7,290.2 314.7,293.1 315.6,293.1 315.6,296.0 316.0,296.0 316.4,296.0 316.4,298.5 317.1,298.5 317.1,301.0 317.5,301.0 317.8,301.0 317.8,304.0 318.2,304.0 318.2,307.0 318.8,307.0 318.8,310.0 319.0,310.0 319.2,322.0 319.8,322.0 319.8,324.6 320.4,324.6 320.4,333.3 333.6,333.3 333.6,344.2 337.1,344.2 337.1,353.4 340.0,353.4 340.0,366.1 346.3,366.1 346.3,392.3 350.8,392.3 350.8,404.6 356.2,404.6 356.2,420.5 360.0,420.5 360.0,436.2 363.8,436.2 363.8,451.5 512.3,451.5" fill="none" stroke="#c21a40" stroke-width="1.3" stroke-linejoin="miter" stroke-linecap="butt" opacity="1"/>
<polyline points="314.3,290.2 315.2,290.2 315.2,293.5 316.9,293.5 316.9,296.7 318.6,296.7 318.6,300.0 319.5,300.0 320.7,300.0 320.7,302.6 323.2,302.6 323.2,305.2 324.4,305.2 325.2,305.2 325.2,305.7 327.0,305.7 327.0,306.2 327.8,306.2 327.8,312.9 328.9,312.9 328.9,313.9 331.0,313.9 331.0,314.8 332.1,314.8 333.6,314.8 333.6,316.8 335.0,316.8 335.0,319.5 354.4,319.5 354.4,330.3 381.5,330.3 381.5,335.4 386.2,335.4 386.2,340.8 392.3,340.8 392.3,347.7 403.5,347.7 403.8,347.7 403.8,351.1 404.3,351.1 404.3,354.6 404.6,354.6 407.7,354.6 407.7,361.5 410.0,361.5 410.0,371.5 435.4,371.5 435.4,394.8 483.1,394.8" fill="none" stroke="#f0be2a" stroke-width="1.3" stroke-linejoin="miter" stroke-linecap="butt" opacity="1"/>
<polyline points="313.4,290.6 314.3,290.6 314.3,293.9 316.0,293.9 316.0,297.1 317.7,297.1 317.7,300.4 318.6,300.4 319.3,300.4 319.3,303.3 320.8,303.3 320.8,306.1 322.2,306.1 322.2,309.0 323.7,309.0 323.7,311.9 324.4,311.9 325.1,311.9 325.1,314.8 326.6,314.8 326.6,317.7 328.0,317.7 328.0,320.6 329.5,320.6 329.5,323.5 330.2,323.5 330.9,323.5 330.9,326.8 332.4,326.8 332.4,330.1 333.8,330.1 333.8,333.4 334.5,333.4 335.9,333.9 336.9,333.9 336.9,337.1 338.8,337.1 338.8,340.4 340.8,340.4 340.8,343.6 342.7,343.6 342.7,346.9 343.7,346.9 345.2,346.9 345.2,350.4 348.3,350.4 348.3,353.8 351.4,353.8 351.4,357.3 352.9,357.3 354.2,357.3 354.2,360.4 357.0,360.4 357.0,363.4 359.6,363.4 359.6,366.5 361.0,366.5 362.3,366.5 362.3,368.2 364.9,368.2 364.9,370.0 366.2,370.0 367.0,370.0 367.0,373.3 368.5,373.3 368.5,376.7 370.0,376.7 370.0,380.0 370.8,380.0 372.3,380.0 372.3,380.5 375.4,380.5 375.4,381.0 378.5,381.0 378.5,381.5 380.0,381.5 380.2,381.5 380.2,384.4 380.6,384.4 380.6,387.3 380.9,387.3 380.9,390.2 381.3,390.2 381.3,393.1 381.5,393.1 382.8,393.1 382.8,393.6 385.4,393.6 385.4,394.1 387.9,394.1 387.9,394.6 389.2,394.6 390.5,394.6 390.5,395.9 393.0,395.9 393.0,397.2 395.6,397.2 395.6,398.5 396.9,398.5 398.0,398.5 398.0,399.8 400.4,399.8 400.4,401.0 401.5,401.0 421.5,401.0 421.5,403.8 427.3,403.8 427.3,407.4 432.8,407.4 432.8,411.1 437.4,411.1 437.4,415.6 439.2,415.6 439.2,422.4 463.9,422.4 463.9,425.7 468.4,425.7 468.4,434.8 486.7,434.8 486.7,442.2 496.8,442.2 496.8,451.3 512.3,451.3" fill="none" stroke="#3fa2da" stroke-width="1.3" stroke-linejoin="miter" stroke-linecap="butt" opacity="1"/>
<path d="M315.0,307.8v4.5M315.5,313.8v4.5M316.0,319.8v4.5M317.0,327.8v4.5M318.5,335.8v4.5M320.0,338.8v4.5M322.5,347.8v4.5M324.0,352.8v4.5M327.0,359.8v4.5M331.0,365.8v4.5M383.0,417.8v4.5M388.5,421.6v4.5M395.0,427.8v4.5M425.5,442.1v4.5M450.2,442.1v4.5M459.3,442.1v4.5" stroke="#3f9a3f" stroke-width="0.9" fill="none"/>
<path d="M315.0,310.0v0.0M312.8,310.0h4.5M315.5,316.0v0.0M313.2,316.0h4.5M316.0,322.0v0.0M313.8,322.0h4.5M317.0,330.0v0.0M314.8,330.0h4.5M320.0,341.0v0.0M317.8,341.0h4.5M324.0,355.0v0.0M321.8,355.0h4.5" stroke="#3f9a3f" stroke-width="0.9" fill="none"/>
<path d="M322.0,299.8v4.5M330.0,319.9v4.5M333.0,319.9v4.5M336.0,319.9v4.5M339.0,319.9v4.5M342.0,319.9v4.5M345.0,319.9v4.5M348.0,319.9v4.5M351.0,319.9v4.5M363.0,325.4v4.5M366.0,325.4v4.5M368.0,325.4v4.5M371.0,325.4v4.5M373.0,325.4v4.5M375.0,325.4v4.5M378.0,325.4v4.5M386.0,336.2v4.5M393.0,336.2v4.5M395.5,336.2v4.5M397.7,336.2v4.5M482.0,396.4v4.5" stroke="#45506a" stroke-width="0.9" fill="none"/>
<path d="M320.0,298.8v4.5M318.3,301.0h3.5M321.1,300.9v4.5M319.3,303.1h3.5M322.1,303.0v4.5M320.4,305.2h3.5M323.2,305.1v4.5M321.4,307.3h3.5M324.2,307.1v4.5M322.5,309.4h3.5M325.3,309.2v4.5M323.5,311.5h3.5M326.3,311.3v4.5M324.6,313.6h3.5M327.4,313.4v4.5M325.6,315.7h3.5M328.4,315.5v4.5M326.7,317.7h3.5M329.5,317.6v4.5M327.7,319.8h3.5M330.5,319.7v4.5M328.8,321.9h3.5M331.5,321.8v4.5M329.8,324.0h3.5M332.4,323.9v4.5M330.7,326.2h3.5M333.4,326.1v4.5M331.6,328.3h3.5M334.3,328.2v4.5M332.5,330.5h3.5M335.2,330.4v4.5M333.5,332.6h3.5M337.0,331.6v4.5M335.3,333.9h3.5M338.2,333.6v4.5M336.5,335.9h3.5M339.4,335.6v4.5M337.7,337.9h3.5M340.6,337.6v4.5M338.9,339.9h3.5M341.8,339.6v4.5M340.1,341.9h3.5M343.0,341.6v4.5M341.3,343.9h3.5M344.2,343.6v4.5M342.5,345.9h3.5M345.7,345.5v4.5M343.9,347.7h3.5M347.2,347.2v4.5M345.5,349.5h3.5M348.8,349.0v4.5M347.0,351.2h3.5M350.3,350.7v4.5M348.6,353.0h3.5M351.9,352.5v4.5M350.1,354.7h3.5M353.4,354.2v4.5M351.7,356.5h3.5M355.0,356.0v4.5M353.2,358.2h3.5M356.5,357.7v4.5M354.7,360.0h3.5M358.0,359.5v4.5M356.3,361.7h3.5M359.6,361.2v4.5M357.8,363.5h3.5M361.1,363.0v4.5M359.4,365.2h3.5" stroke="#5b2470" stroke-width="0.8" fill="none"/>
<path d="M365.0,367.2v4.5M367.0,369.8v4.5M376.0,379.8v4.5M381.0,382.2v4.5M386.0,387.2v4.5M390.0,390.8v4.5M394.0,393.8v4.5M399.0,397.2v4.5M438.0,425.8v4.5M472.0,431.1v4.5M475.0,431.1v4.5M479.0,431.1v4.5M505.5,431.1v4.5" stroke="#5b2470" stroke-width="0.9" fill="none"/>
<path d="M322.0,331.1v4.5M338.5,351.1v4.5" stroke="#c21a40" stroke-width="0.9" fill="none"/>
<path d="M331.0,312.2v4.5M337.0,317.2v4.5M340.0,317.2v4.5M345.0,317.2v4.5M350.0,317.2v4.5M358.0,328.1v4.5M361.0,328.1v4.5M366.0,328.1v4.5M370.0,328.1v4.5M374.0,328.1v4.5M379.0,328.1v4.5M384.0,333.1v4.5M389.0,338.6v4.5M395.0,345.4v4.5M398.0,345.4v4.5M402.0,345.4v4.5M412.3,369.2v4.5M429.2,369.2v4.5M434.6,369.2v4.5M440.8,392.6v4.5M450.0,392.6v4.5M456.2,392.6v4.5M461.5,392.6v4.5M483.0,392.6v4.5" stroke="#f0be2a" stroke-width="0.9" fill="none"/>
<path d="M314.9,291.2v4.5M313.2,293.5h3.5M317.9,296.9v4.5M316.2,299.2h3.5M320.9,302.7v4.5M319.1,304.9h3.5M323.8,308.5v4.5M322.0,310.7h3.5M326.7,314.2v4.5M324.9,316.5h3.5M329.6,320.0v4.5M327.8,322.3h3.5M332.2,325.9v4.5M330.5,328.2h3.5M335.2,331.4v4.5M333.5,333.7h3.5M338.9,336.6v4.5M337.1,338.8h3.5M342.2,342.1v4.5M340.4,344.4h3.5M346.0,347.3v4.5M344.3,349.5h3.5M350.3,352.1v4.5M348.6,354.4h3.5M354.6,357.0v4.5M352.8,359.2h3.5M358.9,361.8v4.5M357.1,364.1h3.5" stroke="#3fa2da" stroke-width="0.8" fill="none"/>
<path d="M446.5,420.1v4.5M465.0,423.4v4.5M470.0,432.6v4.5M473.0,432.6v4.5M476.0,432.6v4.5M479.0,432.6v4.5M482.0,432.6v4.5M490.0,439.9v4.5M380.5,382.8v4.5M386.0,392.1v4.5" stroke="#3fa2da" stroke-width="0.9" fill="none"/>
<text x="93.2" y="15.1" class="ttl">Progression-Free Survival</text>
<text x="374.2" y="15.3" class="ttl">Overall Survival</text>
<text x="188" y="68.2" class="pv"><tspan font-style="italic">P</tspan> &lt; .001</text>
<text x="436.5" y="67.8" class="pv"><tspan font-style="italic">P</tspan> &lt; .001</text>
<text x="187" y="330.7" class="pv"><tspan font-style="italic">P</tspan> &lt; .001</text>
<text x="446" y="329.5" class="pv"><tspan font-style="italic">P</tspan> &lt; .001</text>
<text transform="translate(145.9,239.0) scale(0.752,1)" text-anchor="middle" class="ax">Years from 6 months post-diagnosis</text>
<text transform="translate(405.8,238.8) scale(0.752,1)" text-anchor="middle" class="ax">Years from 6 months post-diagnosis</text>
<text transform="translate(148.0,502.8) scale(0.752,1)" text-anchor="middle" class="ax">Years from 6 months post-consolidation</text>
<text transform="translate(407.4,502.7) scale(0.752,1)" text-anchor="middle" class="ax">Years from 6 months post-consolidation</text>
<text transform="translate(15.0,116.0) rotate(-90) scale(0.752,1)" text-anchor="middle" class="ax">Probability</text>
<text transform="translate(15.0,379.1) rotate(-90) scale(0.752,1)" text-anchor="middle" class="ax">Probability</text>
<path d="M241.2,261.2h12M247.2,257.59999999999997v7.2" stroke="#3fa2da" stroke-width="1.1" fill="none"/><text x="256.5" y="263.8" class="lg">Any</text>
<path d="M277.6,261.2h12M283.6,257.59999999999997v7.2" stroke="#3f9a3f" stroke-width="1.1" fill="none"/><text x="293.9" y="263.8" class="lg">None</text>
<path d="M200.3,525.0h12M206.3,521.4v7.2" stroke="#3f9a3f" stroke-width="1.1" fill="none"/><text x="216.1" y="527.6" class="lg">None</text>
<path d="M245.4,525.0h12M251.4,521.4v7.2" stroke="#5b2470" stroke-width="1.1" fill="none"/><text x="261.0" y="527.6" class="lg">Cytarabine</text>
<path d="M305.6,525.0h12M311.6,521.4v7.2" stroke="#f0be2a" stroke-width="1.1" fill="none"/><text x="321.5" y="527.6" class="lg">RD WBRT</text>
<path d="M200.3,542.5h12M206.3,538.9v7.2" stroke="#45506a" stroke-width="1.1" fill="none"/><text x="216.1" y="545.1" class="lg">AHCT</text>
<path d="M245.4,542.5h12M251.4,538.9v7.2" stroke="#c21a40" stroke-width="1.1" fill="none"/><text x="261.0" y="545.1" class="lg">Other</text>
<path d="M305.6,542.5h12M311.6,538.9v7.2" stroke="#3fa2da" stroke-width="1.1" fill="none"/><text x="321.5" y="545.1" class="lg">SD WBRT</text>
<rect x="0.5" y="0.5" width="519" height="553" fill="none" stroke="#5a5a5a" stroke-width="1.1"/>
</svg>
</body></html>
